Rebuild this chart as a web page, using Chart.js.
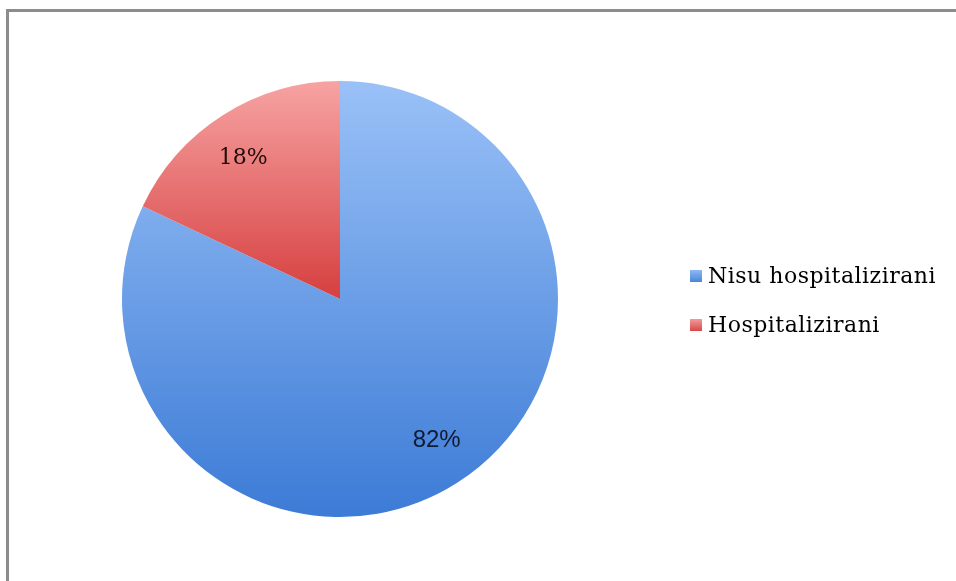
<!DOCTYPE html>
<html>
<head>
<meta charset="utf-8">
<script src="https://cdn.jsdelivr.net/npm/chart.js@4/dist/chart.umd.min.js"></script>
<style>
  html, body { margin: 0; padding: 0; background: #fff; }
  #wrap { position: relative; width: 956px; height: 581px; overflow: hidden; }
  #frame { position: absolute; left: 6px; top: 9px; width: 1000px; height: 1000px;
           border-left: 3px solid #8c8c8c; border-top: 3px solid #8c8c8c; }
  canvas { position: absolute; left: 0; top: 0; }
  .leg { position: absolute; left: 690px; font-family: "DejaVu Serif", serif; font-size: 22px; line-height: 26px;
         letter-spacing: 0.5px; color: #000; white-space: nowrap; }
  .leg .sw { display: inline-block; width: 12px; height: 12px; margin-right: 6px; vertical-align: 1px; }
</style>
</head>
<body>
<div id="wrap">
  <div id="frame"></div>
  <canvas id="c" width="956" height="581"></canvas>
  <div class="leg" id="leg0" style="top:263px"><span class="sw" style="background:linear-gradient(#8fb8f2,#4a86da)"></span><span>Nisu hospitalizirani</span></div>
  <div class="leg" id="leg1" style="top:312px"><span class="sw" style="background:linear-gradient(#f29a9a,#d94848)"></span><span>Hospitalizirani</span></div>
</div>
<script>
const categories = ["Nisu hospitalizirani", "Hospitalizirani"];
const values = [82, 18];
const valueLabels = ["82%", "18%"];

const gradTop = ["#9ac1f7", "#f7a3a3"];
const gradBottom = ["#3c7bd6", "#d63f3f"];

function sliceColor(ctx) {
  const chart = ctx.chart;
  const ca = chart.chartArea;
  const i = ctx.dataIndex;
  if (!ca) return gradBottom[i];
  const cy = (ca.top + ca.bottom) / 2;
  const y1 = i === 0 ? ca.bottom : cy;
  const g = chart.ctx.createLinearGradient(0, ca.top, 0, y1);
  g.addColorStop(0, gradTop[i]);
  g.addColorStop(1, gradBottom[i]);
  return g;
}

const labelPlugin = {
  id: 'sliceLabels',
  afterDatasetsDraw(chart) {
    const ctx = chart.ctx;
    const meta = chart.getDatasetMeta(0);
    meta.data.forEach((arc, i) => {
      const p = arc.getProps(['x', 'y', 'startAngle', 'endAngle', 'outerRadius'], true);
      const mid = (p.startAngle + p.endAngle) / 2 - 2 * Math.PI / 180;
      const r = p.outerRadius * 0.785;
      const x = p.x + Math.cos(mid) * r;
      const y = p.y + Math.sin(mid) * r;
      ctx.save();
      ctx.textAlign = 'center';
      ctx.textBaseline = 'middle';
      if (i === 0) {
        ctx.font = '24px "Liberation Sans", sans-serif';
        ctx.fillStyle = '#101a30';
      } else {
        ctx.font = '22px "DejaVu Serif", serif';
        ctx.fillStyle = '#240a0a';
      }
      ctx.fillText(valueLabels[i], x, y);
      ctx.restore();
    });
  }
};

new Chart(document.getElementById('c'), {
  type: 'pie',
  data: {
    labels: categories,
    datasets: [{
      data: values,
      backgroundColor: sliceColor,
      borderWidth: 0
    }]
  },
  options: {
    responsive: false,
    animation: false,
    layout: { padding: { left: 122, right: 398, top: 81, bottom: 64 } },
    plugins: {
      legend: { display: false },
      tooltip: { enabled: false }
    }
  },
  plugins: [labelPlugin]
});
</script>
</body>
</html>
